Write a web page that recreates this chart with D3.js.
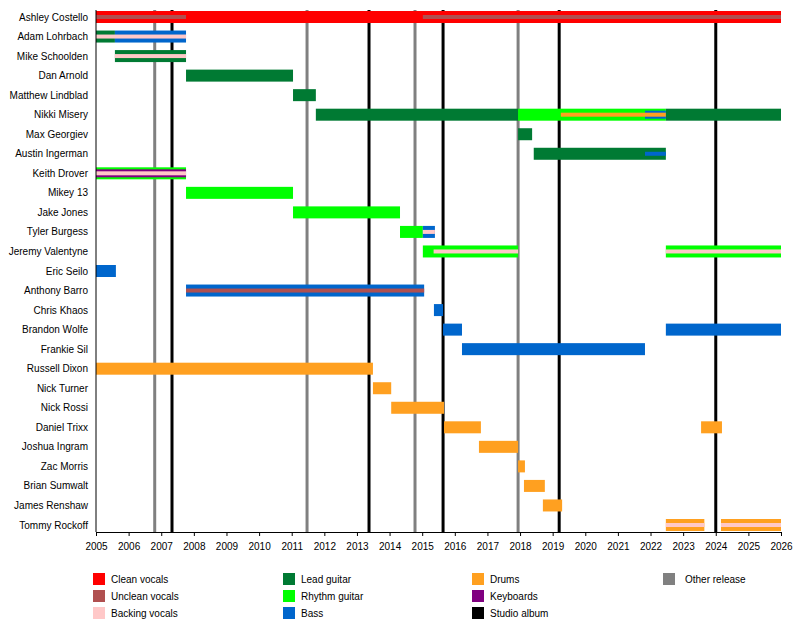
<!doctype html>
<html>
<head>
<meta charset="UTF-8" />
<title>Timeline</title>
<script src="https://d3js.org/d3.v7.min.js"></script>
<style>
  body { margin: 0; background: #fff; }
  text { font-family: "Liberation Sans", Arial, sans-serif; font-size: 10px; fill: #000; }
</style>
</head>
<body>
<div id="container"></div>
<script>
// Band members, top to bottom
const members = ["Ashley Costello", "Adam Lohrbach", "Mike Schoolden", "Dan Arnold", "Matthew Lindblad",
  "Nikki Misery", "Max Georgiev", "Austin Ingerman", "Keith Drover", "Mikey 13", "Jake Jones",
  "Tyler Burgess", "Jeremy Valentyne", "Eric Seilo", "Anthony Barro", "Chris Khaos", "Brandon Wolfe",
  "Frankie Sil", "Russell Dixon", "Nick Turner", "Nick Rossi", "Daniel Trixx", "Joshua Ingram",
  "Zac Morris", "Brian Sumwalt", "James Renshaw", "Tommy Rockoff"];

// Roles and their colours
const roles = ["Clean vocals", "Unclean vocals", "Backing vocals", "Lead guitar", "Rhythm guitar", "Bass",
  "Drums", "Keyboards", "Studio album", "Other release"];
const roleColors = ["#ff0000", "#b05050", "#ffc8c8", "#007a33", "#00ff00", "#0066cc",
  "#ffa020", "#800080", "#000000", "#808080"];

// Main bars: [member, role, from, to]
const bars = [
  ["Ashley Costello", "Clean vocals", 2005, 2026],
  ["Adam Lohrbach", "Lead guitar", 2005, 2005.58],
  ["Adam Lohrbach", "Bass", 2005.58, 2007.76],
  ["Mike Schoolden", "Lead guitar", 2005.58, 2007.76],
  ["Dan Arnold", "Lead guitar", 2007.76, 2011.04],
  ["Matthew Lindblad", "Lead guitar", 2011.04, 2011.74],
  ["Nikki Misery", "Lead guitar", 2011.74, 2017.94],
  ["Nikki Misery", "Rhythm guitar", 2017.94, 2022.47],
  ["Nikki Misery", "Lead guitar", 2022.47, 2026],
  ["Max Georgiev", "Lead guitar", 2017.94, 2018.37],
  ["Austin Ingerman", "Lead guitar", 2018.42, 2022.47],
  ["Keith Drover", "Rhythm guitar", 2005, 2007.76],
  ["Mikey 13", "Rhythm guitar", 2007.76, 2011.04],
  ["Jake Jones", "Rhythm guitar", 2011.04, 2014.32],
  ["Tyler Burgess", "Rhythm guitar", 2014.32, 2015.02],
  ["Tyler Burgess", "Bass", 2015.02, 2015.39],
  ["Jeremy Valentyne", "Rhythm guitar", 2015.02, 2017.94],
  ["Jeremy Valentyne", "Rhythm guitar", 2022.47, 2026],
  ["Eric Seilo", "Bass", 2005, 2005.61],
  ["Anthony Barro", "Bass", 2007.76, 2015.06],
  ["Chris Khaos", "Bass", 2015.36, 2015.64],
  ["Brandon Wolfe", "Bass", 2015.64, 2016.22],
  ["Brandon Wolfe", "Bass", 2022.47, 2026],
  ["Frankie Sil", "Bass", 2016.22, 2021.83],
  ["Russell Dixon", "Drums", 2005, 2013.49],
  ["Nick Turner", "Drums", 2013.49, 2014.05],
  ["Nick Rossi", "Drums", 2014.05, 2015.67],
  ["Daniel Trixx", "Drums", 2015.67, 2016.8],
  ["Daniel Trixx", "Drums", 2023.55, 2024.19],
  ["Joshua Ingram", "Drums", 2016.74, 2017.94],
  ["Zac Morris", "Drums", 2017.94, 2018.15],
  ["Brian Sumwalt", "Drums", 2018.12, 2018.76],
  ["James Renshaw", "Drums", 2018.7, 2019.29],
  ["Tommy Rockoff", "Drums", 2022.47, 2023.65],
  ["Tommy Rockoff", "Drums", 2024.16, 2026]
];

// Secondary role stripes: [member, role, from, to, width]
const stripes = [
  ["Ashley Costello", "Unclean vocals", 2005, 2007.76, 4],
  ["Ashley Costello", "Unclean vocals", 2015.02, 2026, 4],
  ["Adam Lohrbach", "Backing vocals", 2005, 2007.76, 4],
  ["Mike Schoolden", "Backing vocals", 2005.58, 2007.76, 4],
  ["Nikki Misery", "Bass", 2021.83, 2022.47, 8],
  ["Nikki Misery", "Drums", 2019.25, 2022.47, 4],
  ["Austin Ingerman", "Bass", 2021.83, 2022.47, 4],
  ["Keith Drover", "Keyboards", 2005, 2007.76, 8],
  ["Keith Drover", "Backing vocals", 2005, 2007.76, 4],
  ["Tyler Burgess", "Backing vocals", 2015.02, 2015.39, 4],
  ["Jeremy Valentyne", "Backing vocals", 2015.35, 2017.94, 4],
  ["Jeremy Valentyne", "Backing vocals", 2022.47, 2026, 4],
  ["Anthony Barro", "Unclean vocals", 2007.76, 2015.06, 4],
  ["Tommy Rockoff", "Backing vocals", 2022.47, 2023.65, 4],
  ["Tommy Rockoff", "Backing vocals", 2024.16, 2026, 4]
];

// Release markers
const studioAlbums = [2007.33, 2013.37, 2015.64, 2019.2, 2024.0];
const otherReleases = [2006.8, 2011.47, 2014.78, 2017.94];

const years = d3.range(2005, 2027);

const width = 800, height = 625;
const marginLeft = 96, marginRight = 19, marginTop = 8, axisY = 532;
const barH = 12;

const color = d3.scaleOrdinal().domain(roles).range(roleColors);

const x = d3.scaleLinear().domain([2005, 2026]).range([marginLeft, width - marginRight]);
const y = d3.scalePoint().domain(members).range([17, 525]);

const svg = d3.select("#container").append("svg")
    .attr("width", width)
    .attr("height", height);

// release lines (behind bars)
svg.append("g").selectAll("line")
  .data(otherReleases.map(d => [d, "Other release"]).concat(studioAlbums.map(d => [d, "Studio album"])))
  .join("line")
    .attr("x1", d => x(d[0])).attr("x2", d => x(d[0]))
    .attr("y1", marginTop + 2).attr("y2", axisY)
    .attr("stroke", d => color(d[1]))
    .attr("stroke-width", 3);

// bars
svg.append("g").selectAll("rect")
  .data(bars)
  .join("rect")
    .attr("x", d => x(d[2]))
    .attr("width", d => x(d[3]) - x(d[2]))
    .attr("y", d => y(d[0]) - barH / 2)
    .attr("height", barH)
    .attr("fill", d => color(d[1]));

svg.append("g").selectAll("rect")
  .data(stripes)
  .join("rect")
    .attr("x", d => x(d[2]))
    .attr("width", d => x(d[3]) - x(d[2]))
    .attr("y", d => y(d[0]) - d[4] / 2)
    .attr("height", d => d[4])
    .attr("fill", d => color(d[1]));

// member names
svg.append("g").selectAll("text")
  .data(members)
  .join("text")
    .attr("x", marginLeft - 8)
    .attr("y", d => y(d))
    .attr("dy", "0.35em")
    .attr("text-anchor", "end")
    .text(d => d);

// left axis line
svg.append("line")
    .attr("x1", marginLeft).attr("x2", marginLeft)
    .attr("y1", marginTop + 2).attr("y2", axisY)
    .attr("stroke", "#000");

// bottom axis
const xAxis = svg.append("g")
    .attr("transform", `translate(0,${axisY})`)
    .call(d3.axisBottom(x).tickValues(years).tickFormat(d3.format("d")).tickSize(4).tickSizeOuter(0));
xAxis.select(".domain").attr("stroke-width", 1.2);
xAxis.selectAll("text").style("font-size", "10px").style("font-family", "Liberation Sans, Arial, sans-serif").attr("dy", "1.1em");

// legend
const legendCols = [93, 283, 472, 663];
const legendOrder = [[0, 0], [1, 0], [2, 0], [3, 1], [4, 1], [5, 1], [6, 2], [7, 2], [8, 2], [9, 3]];
const lg = svg.append("g").selectAll("g")
  .data(legendOrder)
  .join("g")
    .attr("transform", d => {
      const row = d[1] === 3 ? 0 : d[0] % 3;
      return `translate(${legendCols[d[1]]},${573 + row * 17})`;
    });
lg.append("rect").attr("width", 12).attr("height", 12).attr("fill", d => roleColors[d[0]]);
lg.append("text").attr("x", d => d[1] === 3 ? 22 : 18).attr("y", 6).attr("dy", "0.35em").text(d => roles[d[0]]);
</script>
</body>
</html>
